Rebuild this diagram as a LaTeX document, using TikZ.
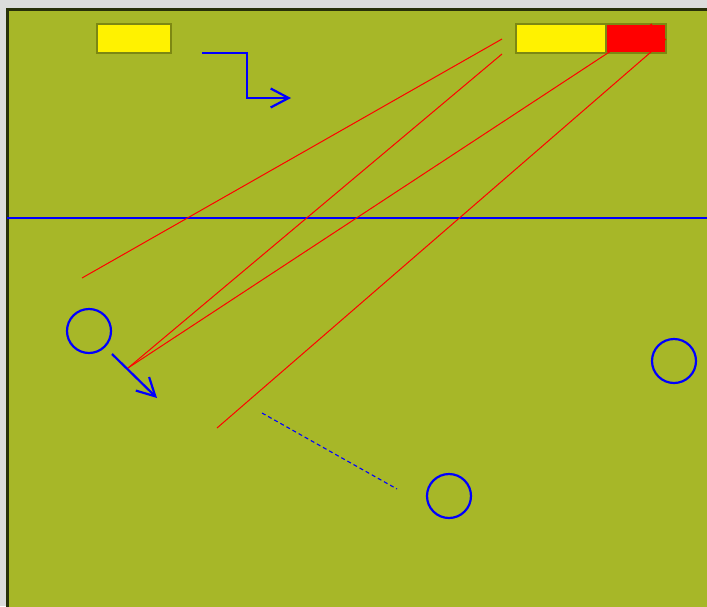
\documentclass[tikz,border=0pt]{standalone}
\usetikzlibrary{arrows.meta}

\definecolor{pitch}{RGB}{167,183,40}
\definecolor{pitchline}{RGB}{40,48,10}
\definecolor{olivebox}{RGB}{125,136,18}
\definecolor{backgr}{RGB}{220,220,220}

\begin{document}
\begin{tikzpicture}[
  x=1pt,y=-1pt,
  >={Straight Barb[length=18pt,width=19pt]},
  pass/.style={draw=red,line width=1pt},
  run/.style={draw=blue,line width=2.2pt},
  player/.style={circle,draw=blue,line width=2.2pt,minimum size=44pt,inner sep=0pt},
  bar/.style={draw=olivebox,line width=2.6pt,minimum height=29pt,inner sep=0pt}
]
\useasboundingbox (0,0) rectangle (707,606);
\clip (0,0) rectangle (707,606);
\fill[backgr] (0,0) rectangle (707,606);
\filldraw[fill=pitch,draw=pitchline,line width=3pt] (7,9) rectangle (730,630);

% halfway line
\draw[blue,line width=2.2pt] (7,218) -- (707,218);

% score bars
\node[bar,fill=yellow,minimum width=74pt] (barL) at (134,38.5) {};
\node[bar,fill=yellow,minimum width=90pt] (barR) at (561,38.5) {};
\node[bar,fill=red,minimum width=60pt] (barRed) at (636,38.5) {};

% players
\node[player] (p1) at (89,331) {};
\node[player] (p2) at (674,361) {};
\node[player] (p3) at (449,496) {};

% pass lines
\coordinate (a1) at (502,39);
\coordinate (a2) at (502,54);
\coordinate (a3) at (652,24);
\coordinate (a4) at (666,39);
\coordinate (b1) at (82,278);
\coordinate (b2) at (128,368);
\coordinate (b4) at (217,428);
\draw[pass] (a1) -- (b1);
\draw[pass] (a2) -- (b2);
\draw[pass] (a3) -- (b2);
\draw[pass] (a4) -- (b4);

% runs
\coordinate (r1) at (202,53);
\coordinate (r2) at (291,98);
\draw[run,->] (r1) -- (247,53) -- (247,98) -- (r2);
\coordinate (m1) at (112,354);
\coordinate (m2) at (157,398);
\draw[run,->] (m1) -- (m2);
\coordinate (d1) at (262,413);
\coordinate (d2) at (397,489);
\draw[blue,line width=1.1pt,dash pattern=on 4pt off 3pt] (d1) -- (d2);
\end{tikzpicture}
\end{document}
